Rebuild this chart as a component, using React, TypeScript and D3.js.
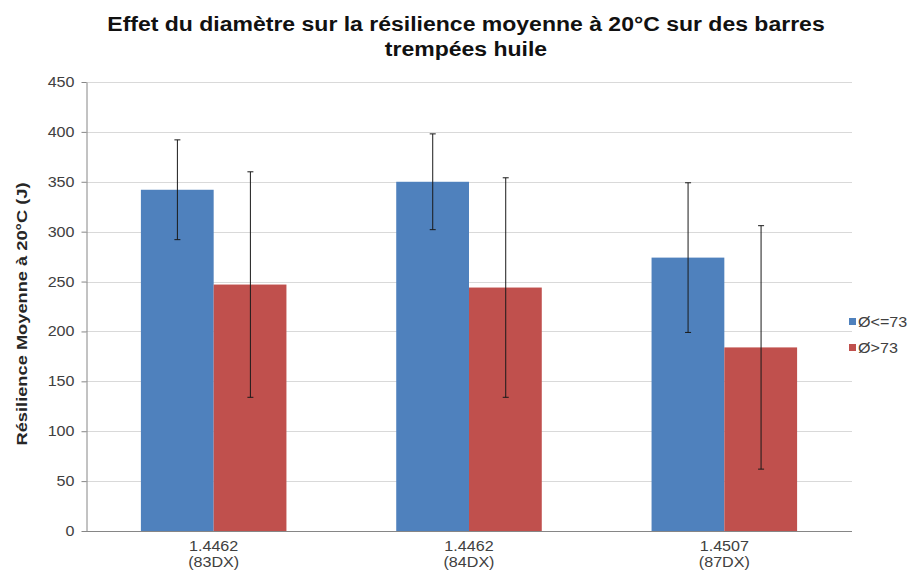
// App.tsx
import React, { useRef, useEffect } from "react";
import * as d3 from "d3";

const categories = ["1.4462", "1.4462 ", "1.4507"];
const categorySub = ["(83DX)", "(84DX)", "(87DX)"];
const seriesNames = ["Ø<=73", "Ø>73"];
const smallDiamMean = [342, 350, 274];
const smallDiamErr = [50, 48, 75];
const largeDiamMean = [247, 244, 184];
const largeDiamErr = [113, 110, 122];
const yTicks = [0, 50, 100, 150, 200, 250, 300, 350, 400, 450];
const titleLines = [
  "Effet du diamètre sur la résilience moyenne à 20°C sur des barres",
  "trempées huile",
];

const colors = ["#4F81BD", "#C0504D"];

// the source picture is a bit wider than tall, text included
const STRETCH = 1.15;

const stretch = (sel: any, k = STRETCH) => {
  sel.each(function (this: SVGTextElement) {
    const len = this.getComputedTextLength();
    d3.select(this)
      .attr("textLength", len * k)
      .attr("lengthAdjust", "spacingAndGlyphs");
  });
};

const App = () => {
  const ref = useRef<SVGSVGElement>(null);

  useEffect(() => {
    const svg = d3.select(ref.current);
    svg.selectAll("*").remove();

    const left = 86;
    const right = 852;
    const top = 82;
    const bottom = 531;
    const font = "Arial, 'Liberation Sans', sans-serif";

    const x = d3
      .scaleBand()
      .domain(categories)
      .range([left, right])
      .paddingInner(0.43)
      .paddingOuter(0.215);

    const x1 = d3.scaleBand().domain(seriesNames).range([0, x.bandwidth()]);

    const y = d3.scaleLinear().domain([0, 450]).range([bottom, top]);

    // title
    const title = svg
      .append("g")
      .selectAll("text")
      .data(titleLines)
      .join("text")
      .attr("x", 466)
      .attr("y", (d, i) => 31 + i * 25)
      .attr("text-anchor", "middle")
      .attr("font-family", font)
      .attr("font-weight", "bold")
      .attr("font-size", 20)
      .attr("fill", "#111")
      .text((d) => d);
    stretch(title);

    // gridlines
    svg
      .append("g")
      .selectAll("line")
      .data(yTicks.filter((d) => d > 0))
      .join("line")
      .attr("x1", left)
      .attr("x2", right)
      .attr("y1", (d) => Math.round(y(d)) + 0.5)
      .attr("y2", (d) => Math.round(y(d)) + 0.5)
      .attr("stroke", "#d9d9d9")
      .attr("stroke-width", 1);

    // y axis
    const yAxis = d3
      .axisLeft(y)
      .tickValues(yTicks)
      .tickSize(5)
      .tickSizeOuter(0)
      .tickPadding(7);
    const yg = svg
      .append("g")
      .attr("transform", `translate(${left + 0.5},0)`)
      .call(yAxis);
    yg.select(".domain").attr("stroke", "#868686");
    yg.selectAll(".tick line").attr("stroke", "#868686");
    const yt = yg
      .selectAll(".tick text")
      .attr("font-family", font)
      .attr("font-size", 14)
      .attr("fill", "#404040");
    stretch(yt);

    // bars
    const rows = categories.map((c, i) => ({
      cat: c,
      vals: [
        { s: seriesNames[0], v: smallDiamMean[i], e: smallDiamErr[i], k: 0 },
        { s: seriesNames[1], v: largeDiamMean[i], e: largeDiamErr[i], k: 1 },
      ],
    }));

    const groups = svg
      .append("g")
      .selectAll("g")
      .data(rows)
      .join("g")
      .attr("transform", (d) => `translate(${x(d.cat)},0)`);

    groups
      .selectAll("rect")
      .data((d) => d.vals)
      .join("rect")
      .attr("x", (d) => x1(d.s)!)
      .attr("width", x1.bandwidth())
      .attr("y", (d) => y(d.v))
      .attr("height", (d) => y(0) - y(d.v))
      .attr("fill", (d) => colors[d.k]);

    // error bars
    const eb = groups
      .selectAll("g.err")
      .data((d) => d.vals)
      .join("g")
      .attr("class", "err")
      .attr("stroke", "#1a1a1a")
      .attr("stroke-width", 1);
    const cx = (d: any) => Math.round(x1(d.s)! + x1.bandwidth() / 2) + 0.5;
    eb.append("line")
      .attr("x1", cx)
      .attr("x2", cx)
      .attr("y1", (d: any) => y(d.v + d.e))
      .attr("y2", (d: any) => y(d.v - d.e));
    eb.append("line")
      .attr("x1", (d: any) => cx(d) - 3)
      .attr("x2", (d: any) => cx(d) + 3)
      .attr("y1", (d: any) => y(d.v + d.e))
      .attr("y2", (d: any) => y(d.v + d.e));
    eb.append("line")
      .attr("x1", (d: any) => cx(d) - 3)
      .attr("x2", (d: any) => cx(d) + 3)
      .attr("y1", (d: any) => y(d.v - d.e))
      .attr("y2", (d: any) => y(d.v - d.e));

    // x axis
    svg
      .append("line")
      .attr("x1", left)
      .attr("x2", right)
      .attr("y1", bottom + 0.5)
      .attr("y2", bottom + 0.5)
      .attr("stroke", "#868686");

    const xg = svg.append("g");
    const xTop = xg
      .selectAll("text.main")
      .data(categories)
      .join("text")
      .attr("class", "main")
      .attr("x", (d) => x(d)! + x.bandwidth() / 2)
      .attr("y", 551)
      .text((d) => d.trim());
    const xSub = xg
      .selectAll("text.sub")
      .data(categories)
      .join("text")
      .attr("class", "sub")
      .attr("x", (d) => x(d)! + x.bandwidth() / 2)
      .attr("y", 567)
      .text((d, i) => categorySub[i]);
    xg.selectAll("text")
      .attr("text-anchor", "middle")
      .attr("font-family", font)
      .attr("font-size", 14)
      .attr("fill", "#404040");
    stretch(xTop);
    stretch(xSub);

    // y label
    svg
      .append("text")
      .attr("transform", `translate(27,314) rotate(-90)`)
      .attr("text-anchor", "middle")
      .attr("font-family", font)
      .attr("font-weight", "bold")
      .attr("font-size", 14)
      .attr("fill", "#262626")
      .attr("textLength", 263)
      .attr("lengthAdjust", "spacingAndGlyphs")
      .text("Résilience Moyenne à 20°C (J)");

    // legend
    const lg = svg
      .append("g")
      .selectAll("g")
      .data(seriesNames)
      .join("g")
      .attr("transform", (d, i) => `translate(849,${322 + i * 26})`);
    lg.append("rect")
      .attr("x", 0)
      .attr("y", -4)
      .attr("width", 7)
      .attr("height", 7)
      .attr("fill", (d, i) => colors[i]);
    const lt = lg
      .append("text")
      .attr("x", 9)
      .attr("y", 5)
      .attr("font-family", font)
      .attr("font-size", 14)
      .attr("fill", "#404040")
      .text((d) => d);
    stretch(lt);
  }, []);

  return (
    <svg
      ref={ref}
      width={919}
      height={578}
      style={{ position: "absolute", left: 0, top: 0, background: "#fff" }}
    />
  );
};

export default App;
